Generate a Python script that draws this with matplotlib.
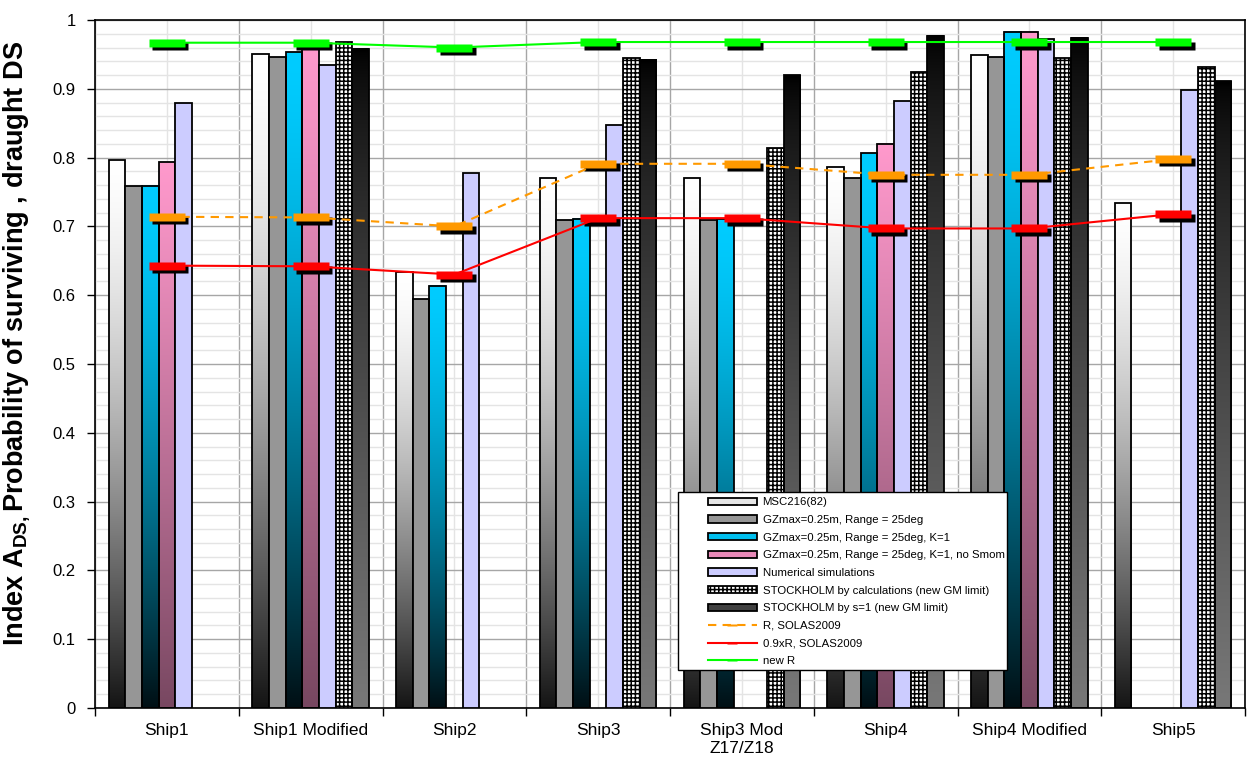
import numpy as np
import matplotlib
matplotlib.use('Agg')
import matplotlib.pyplot as plt
from matplotlib.patches import Patch, Rectangle
from matplotlib.lines import Line2D
from matplotlib.transforms import ScaledTranslation

plt.rcParams['font.family'] = ['Liberation Sans', 'DejaVu Sans']
plt.rcParams['mathtext.fontset'] = 'custom'
plt.rcParams['mathtext.rm'] = 'Liberation Sans:bold'
plt.rcParams['mathtext.it'] = 'Liberation Sans:bold'
plt.rcParams['mathtext.bf'] = 'Liberation Sans:bold'
plt.rcParams['hatch.linewidth'] = 1.1
plt.rcParams['hatch.color'] = 'black'

nan = np.nan
ships = ['Ship1', 'Ship1 Modified', 'Ship2', 'Ship3', 'Ship3 Mod\nZ17/Z18',
         'Ship4', 'Ship4 Modified', 'Ship5']

msc = [0.797, 0.950, 0.634, 0.770, 0.770, 0.787, 0.949, 0.734]
gz = [0.759, 0.946, 0.595, 0.709, 0.709, 0.771, 0.946, nan]
gz_k1 = [0.759, 0.953, 0.614, 0.711, 0.711, 0.806, 0.983, nan]
gz_nosmom = [0.793, 0.960, nan, nan, nan, 0.820, 0.983, nan]
numsim = [0.880, 0.934, 0.778, 0.848, nan, 0.882, 0.973, 0.898]
stock_calc = [nan, 0.968, nan, 0.945, 0.814, 0.924, 0.945, 0.931]
stock_s1 = [nan, 0.958, nan, 0.942, 0.920, 0.977, 0.974, 0.911]

r_solas = [0.714, 0.713, 0.700, 0.791, 0.791, 0.775, 0.775, 0.798]
r09_solas = [0.643, 0.642, 0.630, 0.712, 0.712, 0.697, 0.697, 0.718]
new_r = [0.967, 0.967, 0.960, 0.968, 0.968, 0.968, 0.968, 0.968]

bar_labels = ['MSC216(82)',
              'GZmax=0.25m, Range = 25deg',
              'GZmax=0.25m, Range = 25deg, K=1',
              'GZmax=0.25m, Range = 25deg, K=1, no Smom',
              'Numerical simulations',
              'STOCKHOLM by calculations (new GM limit)',
              'STOCKHOLM by s=1 (new GM limit)']
bar_series = [msc, gz, gz_k1, gz_nosmom, numsim, stock_calc, stock_s1]

# style per series: ('grad', top, bottom, power) / ('solid', color) / ('hatch', pattern)
styles = [
    ('grad', (1.0, 1.0, 1.0), (0.08, 0.08, 0.08), 1.5),
    ('solid', '#969696'),
    ('grad', (0.0, 0.8, 1.0), (0.0, 0.06, 0.08), 1.5),
    ('grad', (1.0, 0.6, 0.8), (0.47, 0.28, 0.38), 1.1),
    ('solid', '#CCCCFF'),
    ('hatch', '++++'),
    ('grad', (0.0, 0.0, 0.0), (0.47, 0.47, 0.47), 0.7),
]
legend_faces = ['#E6E6E6', '#969696', '#00BFEF', '#E889B8', '#CCCCFF', 'white', '#404040']

fig = plt.figure(figsize=(12.47, 7.61), dpi=100)
ax = fig.add_axes([95 / 1247, 53 / 761, 1150 / 1247, 688 / 761])

x = np.arange(len(ships))
w = 0.116
nser = len(bar_series)

for i, (vals, st) in enumerate(zip(bar_series, styles)):
    offs = (i - (nser - 1) / 2) * w
    for xi, v in zip(x, vals):
        if np.isnan(v):
            continue
        x0 = xi + offs - w / 2
        if st[0] == 'grad':
            top, bot, p = np.array(st[1]), np.array(st[2]), st[3]
            t = np.linspace(0, 1, 200) ** p
            img = top[None, :] + (bot - top)[None, :] * t[:, None]
            ax.imshow(img[:, None, :], extent=[x0, x0 + w, 0, v], aspect='auto',
                      interpolation='bilinear', zorder=2)
            ax.add_patch(Rectangle((x0, 0), w, v, fill=False, edgecolor='black',
                                   lw=1.3, zorder=3))
        elif st[0] == 'solid':
            ax.add_patch(Rectangle((x0, 0), w, v, facecolor=st[1], edgecolor='black',
                                   lw=1.3, zorder=3))
        else:
            ax.add_patch(Rectangle((x0, 0), w, v, facecolor='white', edgecolor='black',
                                   hatch=st[1], lw=1.3, zorder=3))

# R lines with rectangular markers and drop shadows
rect_marker = [(-4.5, -1), (4.5, -1), (4.5, 1), (-4.5, 1), (-4.5, -1)]
shadow = ax.transData + ScaledTranslation(3.5 / 100, -3.5 / 100, fig.dpi_scale_trans)
line_specs = [(r_solas, '#FF9900', (0, (4, 3)), 'R, SOLAS2009'),
              (r09_solas, '#FF0000', '-', '0.9xR, SOLAS2009'),
              (new_r, '#00FF00', '-', 'new R')]
for vals, col, ls, lab in line_specs:
    ax.plot(x, vals, ls='none', marker=rect_marker, ms=26, mfc='black', mec='none',
            transform=shadow, zorder=4)
    ax.plot(x, vals, ls=ls, color=col, lw=1.5, zorder=4.5)
    ax.plot(x, vals, ls='none', marker=rect_marker, ms=26, mfc=col, mec='none', zorder=5)

ax.set_xlim(-0.5, len(ships) - 0.5)
ax.set_ylim(0, 1)

ax.set_xticks(np.arange(-0.5, len(ships) + 0.5, 1.0))
ax.set_xticklabels([])
ax.set_xticks(x, minor=True)
ax.set_xticklabels(ships, minor=True, fontsize=12.5)
ax.tick_params(axis='x', which='major', length=6, width=1, color='black', direction='out')
ax.tick_params(axis='x', which='minor', length=0, pad=11)

yt = np.round(np.arange(0, 1.01, 0.1), 1)
ax.set_yticks(yt)
ax.set_yticklabels([f'{v:g}' for v in yt], fontsize=12)
ax.set_yticks(np.arange(0, 1.001, 0.02), minor=True)
ax.tick_params(axis='y', which='major', length=6, width=1, direction='out', pad=8)
ax.tick_params(axis='y', which='minor', length=0)

ax.set_axisbelow(True)
ax.grid(which='major', axis='both', color='#A6A6A6', lw=1.0)
ax.grid(which='minor', axis='both', color='#E4E4E4', lw=1.0)
for s in ax.spines.values():
    s.set_color('black')
    s.set_linewidth(1.2)

ax.set_ylabel(r'Index A$_{\mathrm{DS,}}$Probability of surviving , draught DS',
              fontsize=19.5, fontweight='bold')
ax.yaxis.set_label_coords(-0.055, 0.53)

# legend
handles = []
for lab, fc, st in zip(bar_labels, legend_faces, styles):
    hatch = st[1] if st[0] == 'hatch' else None
    handles.append(Patch(facecolor=fc, edgecolor='black', lw=1.3, hatch=hatch, label=lab))
for vals, col, ls, lab in line_specs:
    handles.append(Line2D([], [], color=col, ls=ls, lw=1.5, marker=rect_marker, ms=7,
                          mfc=col, mec='none', label=lab))

box = Rectangle((0.507, 0.055), 0.286, 0.259, transform=ax.transAxes, facecolor='white',
                edgecolor='black', lw=1.0, zorder=6)
ax.add_patch(box)
leg = ax.legend(handles=handles, loc='upper left', bbox_to_anchor=(0.530, 0.311),
                frameon=False, fontsize=8.2, handlelength=4.3, handleheight=0.6,
                handletextpad=0.5, labelspacing=0.67, borderpad=0.3, borderaxespad=0)
leg.set_zorder(7)

fig.savefig('out.png', dpi=100)
